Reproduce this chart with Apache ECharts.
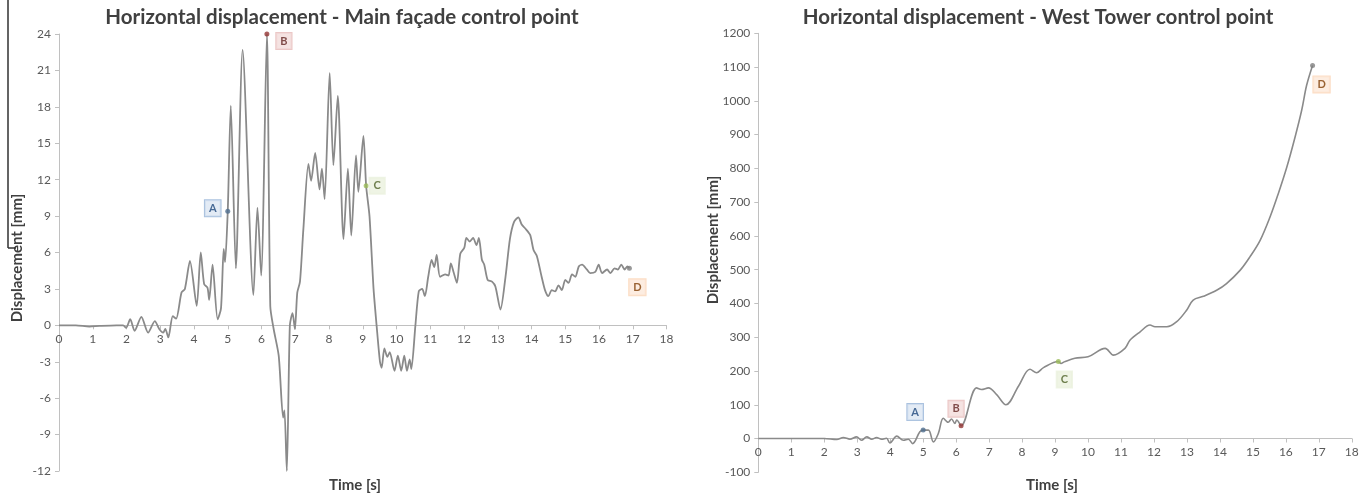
<!DOCTYPE html>
<html>
<head>
<meta charset="utf-8">
<title>Horizontal displacement</title>
<script src="https://cdn.jsdelivr.net/npm/echarts@6/dist/echarts.min.js"></script>
<style>
  html, body { margin: 0; padding: 0; background: #ffffff; }
  #chart { width: 1372px; height: 496px; }
</style>
</head>
<body>
<div id="chart"></div>
<script>
// Main façade control point: time [s] and horizontal displacement [mm]
const facadeTime = [0, 0.5, 0.9, 1.2, 1.7, 1.9, 1.99, 2.11, 2.24, 2.44, 2.64, 2.84, 2.97, 3.09, 3.15, 3.24, 3.37, 3.47, 3.63, 3.73, 3.88, 4.08, 4.2, 4.3, 4.4, 4.45, 4.55, 4.7, 4.8, 4.88, 4.92, 5.0, 5.09, 5.24, 5.44, 5.76, 5.88, 5.99, 6.16, 6.26, 6.36, 6.51, 6.64, 6.68, 6.75, 6.84, 6.92, 6.99, 7.06, 7.14, 7.24, 7.39, 7.47, 7.59, 7.72, 7.79, 7.87, 8.02, 8.13, 8.26, 8.43, 8.56, 8.66, 8.8, 8.87, 9.02, 9.1, 9.2, 9.32, 9.41, 9.51, 9.56, 9.64, 9.73, 9.8, 9.94, 10.04, 10.14, 10.23, 10.31, 10.39, 10.44, 10.56, 10.66, 10.76, 10.84, 10.94, 11.04, 11.12, 11.19, 11.29, 11.44, 11.54, 11.61, 11.69, 11.79, 11.89, 12.01, 12.07, 12.17, 12.27, 12.37, 12.44, 12.53, 12.6, 12.7, 12.83, 12.93, 13.08, 13.23, 13.36, 13.48, 13.61, 13.71, 13.81, 13.96, 14.06, 14.16, 14.3, 14.4, 14.5, 14.6, 14.7, 14.8, 14.9, 15.0, 15.1, 15.2, 15.3, 15.4, 15.5, 15.64, 15.74, 15.89, 15.99, 16.09, 16.24, 16.34, 16.46, 16.56, 16.66, 16.76, 16.84, 16.9];
const facadeDisp = [0, 0, -0.1, -0.05, 0, 0, -0.2, 0.5, -0.45, 0.7, -0.6, 0.35, -0.3, -0.6, -0.3, -1.0, 0.75, 0.55, 2.7, 3.0, 5.3, 1.6, 6.0, 3.4, 3.1, 2.1, 5.0, 0.5, 1.4, 6.3, 5.2, 9.4, 18.1, 4.7, 22.7, 2.5, 9.7, 4.1, 24.0, 1.6, -0.3, -2.5, -7.6, -7.0, -12.0, 0, 1.0, -0.3, 2.7, 3.6, 7.9, 13.3, 11.9, 14.2, 11.2, 12.9, 10.4, 20.8, 13.2, 18.9, 7.1, 12.9, 7.4, 14.0, 11.0, 15.6, 11.5, 9.0, 3.0, 0, -3.0, -3.5, -1.9, -2.6, -2.2, -3.75, -2.5, -3.75, -2.5, -3.75, -2.8, -3.6, 0, 2.8, 3.0, 2.4, 4.0, 5.4, 4.8, 5.8, 4.0, 4.2, 4.1, 5.1, 4.4, 3.5, 5.9, 6.4, 7.2, 6.9, 7.2, 6.6, 7.2, 5.4, 5.0, 3.75, 3.6, 3.2, 1.3, 4.0, 7.1, 8.5, 8.9, 8.3, 8.0, 7.45, 6.2, 5.7, 4.0, 2.9, 2.4, 2.9, 2.8, 3.3, 2.9, 3.75, 3.5, 4.2, 4.0, 4.85, 5.0, 4.6, 4.3, 4.4, 5.0, 4.3, 4.6, 4.3, 4.7, 4.6, 5.0, 4.6, 4.85, 4.7];

// West Tower control point: time [s] and horizontal displacement [mm]
const towerTime = [0, 1, 2, 2.38, 2.58, 2.78, 2.98, 3.13, 3.29, 3.44, 3.59, 3.74, 3.89, 3.99, 4.2, 4.4, 4.55, 4.68, 4.9, 5.0, 5.16, 5.31, 5.46, 5.61, 5.76, 5.86, 5.96, 6.02, 6.15, 6.62, 6.77, 6.98, 7.23, 7.51, 7.89, 8.24, 8.44, 8.65, 9.1, 9.18, 9.28, 9.6, 10.0, 10.52, 10.77, 11.12, 11.27, 11.58, 11.88, 12.03, 12.39, 12.69, 12.99, 13.19, 13.5, 13.9, 14.2, 14.61, 14.91, 15.22, 15.52, 15.77, 16.03, 16.28, 16.48, 16.63, 16.81];
const towerDisp = [0, 0, 0, -3, 3, -2, 5, -5, 5, -2, 3, -2, 1, -13, 7, -5, -2, -15, 20, 25, 25, -10, 15, 60, 48, 58, 45, 55, 38, 150, 145, 150, 130, 100, 155, 205, 195, 210, 228, 222, 227, 238, 242, 267, 247, 267, 291, 316, 336, 331, 331, 346, 380, 410, 421, 439, 459, 498, 538, 587, 656, 725, 804, 893, 972, 1046, 1105];

// Control stages marked on both curves
const stageNames = ['A', 'B', 'C', 'D'];
const facadeStageTime = [5.0, 6.16, 9.1, 16.9];
const facadeStageDisp = [9.4, 24.0, 11.5, 4.7];
const towerStageTime = [5.0, 6.15, 9.1, 16.81];
const towerStageDisp = [25, 38, 228, 1105];

// Axis ranges and tick steps
const facadeYTicks = { min: -12, max: 24, interval: 3 };
const towerYTicks = { min: -100, max: 1200, interval: 100 };
const timeTicks = { min: 0, max: 18, interval: 1 };

const FONT = 'Lato, "Open Sans", sans-serif';
const TEXT_DARK = '#404040';
const stageStyles = [
  { bg: '#dce6f2', border: '#95b3d7', text: '#1f497d', dot: '#4f6e8f' },
  { bg: '#f2dcdb', border: '#e6b9b8', text: '#632523', dot: '#943634' },
  { bg: '#ebf1de', border: '#ebf1de', text: '#4f6228', dot: '#9bbb59' },
  { bg: '#fde9d9', border: '#fbd5b5', text: '#7f3f06', dot: '#7f7f7f' }
];
const facadeOffsets = [[-15, -3], [17, 7], [11, 0], [8, 19]];
const towerOffsets = [[-8, -18], [-5, -17], [6, 18], [9, 19]];

// Panel rectangles
const facadeGrid = { left: 59, top: 34, width: 607.5, height: 437 };
const towerGrid = { left: 758.3, top: 33.3, width: 593.5, height: 439 };

function pairs(xs, ys) { return xs.map((x, i) => [x, ys[i]]); }

function stagePoints(times, disps, offsets) {
  return times.map((t, i) => ({
    value: [t, disps[i]],
    itemStyle: { color: stageStyles[i].dot },
    label: {
      show: true,
      formatter: stageNames[i],
      position: 'inside',
      offset: offsets[i],
      backgroundColor: stageStyles[i].bg,
      borderColor: stageStyles[i].border,
      borderWidth: 1,
      padding: [3, 4, 2, 4],
      color: stageStyles[i].text,
      fontFamily: FONT,
      fontWeight: 'bold',
      fontSize: 11
    }
  }));
}

// The time axis runs along the zero line; its labels sit right under it
function xAxisFor(gridIndex, grid, yTicks) {
  const zeroShift = grid.height * (0 - yTicks.min) / (yTicks.max - yTicks.min);
  return {
    type: 'value', gridIndex,
    min: timeTicks.min, max: timeTicks.max, interval: timeTicks.interval,
    position: 'bottom',
    offset: -zeroShift,
    axisLine: { show: true, onZero: false, lineStyle: { color: '#c0c0c0', width: 1 } },
    axisTick: { show: true, length: 4, lineStyle: { color: '#c0c0c0' } },
    axisLabel: { fontFamily: FONT, fontSize: 12, color: '#595959', margin: 8 },
    splitLine: { show: false }
  };
}

function yAxisFor(gridIndex, ticks) {
  return {
    type: 'value', gridIndex,
    min: ticks.min, max: ticks.max, interval: ticks.interval,
    axisLine: { show: true, lineStyle: { color: '#c0c0c0', width: 1 } },
    axisTick: { show: true, length: 4, lineStyle: { color: '#c0c0c0' } },
    axisLabel: {
      fontFamily: FONT, fontSize: 12, color: '#595959', margin: 8,
      formatter: v => String(v)
    },
    splitLine: { show: false }
  };
}

function axisTitle(text, x, y, rotated) {
  return {
    type: 'text',
    x, y,
    rotation: rotated ? Math.PI / 2 : 0,
    style: {
      text,
      fill: TEXT_DARK,
      font: 'bold 15px ' + FONT,
      align: 'center',
      verticalAlign: 'middle'
    }
  };
}

const chart = echarts.init(document.getElementById('chart'), null, { renderer: 'canvas' });

chart.setOption({
  animation: false,
  backgroundColor: '#ffffff',
  title: [
    {
      text: 'Horizontal displacement - Main façade control point',
      left: 337, top: 2, textAlign: 'center',
      textStyle: { fontFamily: FONT, fontWeight: 'bold', fontSize: 20.5, color: TEXT_DARK }
    },
    {
      text: 'Horizontal displacement - West Tower control point',
      left: 1033, top: 2, textAlign: 'center',
      textStyle: { fontFamily: FONT, fontWeight: 'bold', fontSize: 20.5, color: TEXT_DARK }
    }
  ],
  grid: [facadeGrid, towerGrid],
  xAxis: [
    xAxisFor(0, facadeGrid, facadeYTicks),
    xAxisFor(1, towerGrid, towerYTicks)
  ],
  yAxis: [yAxisFor(0, facadeYTicks), yAxisFor(1, towerYTicks)],
  graphic: [
    axisTitle('Displacement [mm]', 17, 258, true),
    axisTitle('Displacement [mm]', 713, 240, true),
    axisTitle('Time [s]', 355, 485, false),
    axisTitle('Time [s]', 1052, 485, false),
    { type: 'line', shape: { x1: 8, y1: 0, x2: 8, y2: 248 }, style: { stroke: '#303030', lineWidth: 1.5 } },
    { type: 'line', shape: { x1: 8, y1: 248, x2: 16, y2: 248 }, style: { stroke: '#303030', lineWidth: 1.5 } }
  ],
  series: [
    {
      type: 'line', xAxisIndex: 0, yAxisIndex: 0,
      data: pairs(facadeTime, facadeDisp),
      showSymbol: false, smooth: 0.25,
      lineStyle: { color: '#8a8a8a', width: 1.8 }
    },
    {
      type: 'line', xAxisIndex: 1, yAxisIndex: 1,
      data: pairs(towerTime, towerDisp),
      showSymbol: false, smooth: 0.35,
      lineStyle: { color: '#8a8a8a', width: 1.6 }
    },
    {
      type: 'scatter', xAxisIndex: 0, yAxisIndex: 0,
      symbol: 'circle', symbolSize: 5,
      data: stagePoints(facadeStageTime, facadeStageDisp, facadeOffsets),
      z: 5
    },
    {
      type: 'scatter', xAxisIndex: 1, yAxisIndex: 1,
      symbol: 'circle', symbolSize: 5,
      data: stagePoints(towerStageTime, towerStageDisp, towerOffsets),
      z: 5
    }
  ]
});
</script>
</body>
</html>
